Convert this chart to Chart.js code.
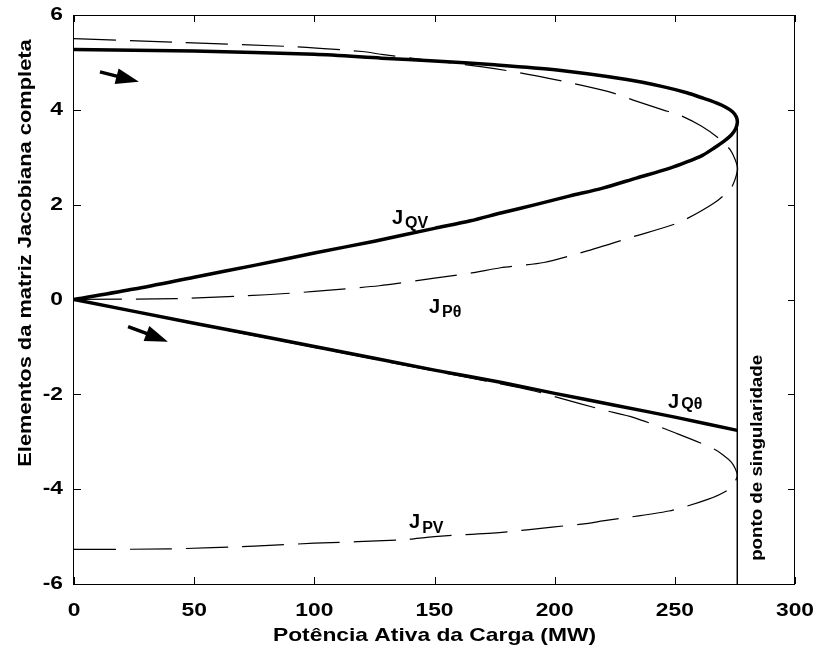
<!DOCTYPE html>
<html>
<head>
<meta charset="utf-8">
<script src="https://cdn.jsdelivr.net/npm/chart.js@4.4.1/dist/chart.umd.min.js"></script>
<style>
html, body { margin: 0; padding: 0; background: #fff; }
</style>
</head>
<body>
<canvas id="jacChart" width="817" height="650"></canvas>
<script>
// J_QV - thick solid (upper branch, nose, back to origin)
const qvX = [0, 50, 100, 128, 150, 175, 201, 230, 245, 255, 262, 267, 271, 274, 275.6, 276, 275.3, 273.5, 270.5, 266.5, 261.5, 255, 248, 234, 220, 206, 192, 178, 165, 150, 125, 100, 75, 50, 25, 0];
const qvY = [5.27, 5.24, 5.17, 5.09, 5.03, 4.95, 4.84, 4.64, 4.49, 4.36, 4.24, 4.15, 4.06, 3.96, 3.85, 3.73, 3.6, 3.47, 3.34, 3.2, 3.04, 2.9, 2.77, 2.56, 2.35, 2.18, 2.0, 1.83, 1.66, 1.5, 1.23, 0.98, 0.72, 0.47, 0.22, 0];

// J_Ptheta - thin dashed
const ptX = [0, 45, 92, 120, 128, 150, 175, 197, 222, 233, 245, 252, 261, 268, 273, 275.8, 276, 273.5, 266.5, 251.5, 233, 212.5, 195.5, 177.5, 165.5, 150, 127, 100, 80, 43, 0];
const ptY = [5.5, 5.42, 5.33, 5.23, 5.17, 5.03, 4.87, 4.67, 4.39, 4.2, 4.0, 3.89, 3.66, 3.41, 3.16, 2.85, 2.7, 2.36, 2.04, 1.62, 1.33, 1.01, 0.78, 0.67, 0.56, 0.45, 0.29, 0.17, 0.1, 0.02, 0];

// J_Qtheta - thick solid
const qtX = [0, 50, 100, 150, 178, 200, 225, 250, 276];
const qtY = [0, -0.5, -0.99, -1.49, -1.75, -1.98, -2.23, -2.48, -2.76];

// J_PV - thin dashed
const pvX = [0, 40, 75, 100, 136, 150, 178, 199, 214, 220, 247.5, 264, 272.5, 276, 273.5, 266.5, 249.5, 233, 219.5, 201.5, 191.5, 177.5, 150, 100, 50, 0];
const pvY = [-5.27, -5.26, -5.2, -5.14, -5.07, -5.0, -4.91, -4.8, -4.72, -4.67, -4.46, -4.21, -4.0, -3.72, -3.43, -3.16, -2.8, -2.49, -2.32, -2.07, -1.93, -1.78, -1.51, -1.01, -0.51, 0];

// singular point marker line
const singX = [276, 276];
const singY = [3.72, -6];

const xTicks = [0, 50, 100, 150, 200, 250, 300];
const yTicks = [-6, -4, -2, 0, 2, 4, 6];

// annotations (data coordinates)
const arrows = [
    { from: [10.8, 4.8], to: [27.0, 4.59] },
    { from: [22.5, -0.57], to: [39.1, -0.89] }
];
const curveLabels = [
    { main: "J", sub: "QV", x: 132.3, y: 1.6, subDy: 4 },
    { main: "J", sub: "P\u03b8", x: 147.7, y: -0.28, subDy: 4 },
    { main: "J", sub: "Q\u03b8", x: 247.2, y: -2.29, subDy: 1 },
    { main: "J", sub: "PV", x: 139.4, y: -4.82, subDy: 5 }
];

function toPoints(xs, ys) {
    return xs.map((x, i) => ({ x: x, y: ys[i] }));
}

const FONT = "'Liberation Sans', Arial, Helvetica, sans-serif";

// text drawn a bit wider, like the stretched original figure
function wideText(ctx, str, x, y, sx, rot) {
    ctx.save();
    ctx.translate(x, y);
    if (rot) ctx.rotate(rot);
    ctx.scale(sx, 1);
    ctx.fillText(str, 0, 0);
    ctx.restore();
}

const framePlugin = {
    id: 'frame',
    afterDraw(chart) {
        const ctx = chart.ctx;
        const a = chart.chartArea;
        const xs = chart.scales.x;
        const ys = chart.scales.y;
        ctx.save();
        ctx.strokeStyle = '#000';
        ctx.fillStyle = '#000';
        ctx.lineWidth = 1;
        ctx.strokeRect(Math.round(a.left) - 0.5, Math.round(a.top) + 0.5, Math.round(a.right - a.left), Math.round(a.bottom - a.top));

        // inward ticks on all four sides
        ctx.beginPath();
        xTicks.forEach(v => {
            const p = Math.round(xs.getPixelForValue(v)) + 0.5;
            ctx.moveTo(p, a.bottom); ctx.lineTo(p, a.bottom - 7);
            ctx.moveTo(p, a.top); ctx.lineTo(p, a.top + 7);
        });
        yTicks.forEach(v => {
            const p = Math.round(ys.getPixelForValue(v)) + 0.5;
            ctx.moveTo(a.left, p); ctx.lineTo(a.left + 7, p);
            ctx.moveTo(a.right, p); ctx.lineTo(a.right - 7, p);
        });
        ctx.stroke();

        // tick labels
        ctx.font = "bold 19px " + FONT;
        ctx.textBaseline = 'middle';
        ctx.textAlign = 'center';
        xTicks.forEach(v => wideText(ctx, String(v), xs.getPixelForValue(v), 611, 1.2));
        ctx.textAlign = 'right';
        yTicks.forEach(v => wideText(ctx, String(v), 63, ys.getPixelForValue(v), 1.2));

        // arrows
        arrows.forEach(ar => {
            const x1 = xs.getPixelForValue(ar.from[0]), y1 = ys.getPixelForValue(ar.from[1]);
            const x2 = xs.getPixelForValue(ar.to[0]), y2 = ys.getPixelForValue(ar.to[1]);
            const ang = Math.atan2(y2 - y1, x2 - x1);
            const hl = 23, hw = 8;
            const bx = x2 - hl * Math.cos(ang), by = y2 - hl * Math.sin(ang);
            ctx.lineWidth = 3.5;
            ctx.beginPath();
            ctx.moveTo(x1, y1); ctx.lineTo(bx + 2 * Math.cos(ang), by + 2 * Math.sin(ang));
            ctx.stroke();
            ctx.beginPath();
            ctx.moveTo(x2, y2);
            ctx.lineTo(bx + hw * Math.sin(ang), by - hw * Math.cos(ang));
            ctx.lineTo(bx - hw * Math.sin(ang), by + hw * Math.cos(ang));
            ctx.closePath();
            ctx.fill();
        });

        // curve labels
        ctx.textBaseline = 'alphabetic';
        ctx.textAlign = 'left';
        curveLabels.forEach(l => {
            const px = xs.getPixelForValue(l.x), py = ys.getPixelForValue(l.y);
            ctx.font = "bold 20px " + FONT;
            ctx.fillText(l.main, px, py);
            const w = ctx.measureText(l.main).width;
            ctx.font = "bold 16px " + FONT;
            ctx.fillText(l.sub, px + w + 2, py + l.subDy);
        });

        // vertical annotation
        ctx.font = "bold 16px " + FONT;
        ctx.textAlign = 'center';
        ctx.textBaseline = 'middle';
        wideText(ctx, "ponto de singularidade", xs.getPixelForValue(284.6), ys.getPixelForValue(-3.34), 1.17, -Math.PI / 2);

        // axis titles
        ctx.font = "bold 19px " + FONT;
        wideText(ctx, "Potência Ativa da Carga (MW)", (a.left + a.right) / 2, 636, 1.2);
        wideText(ctx, "Elementos da matriz Jacobiana completa", 26, 253, 1.15, -Math.PI / 2);
        ctx.restore();
    }
};

const ctx = document.getElementById("jacChart").getContext("2d");

const jacChart = new Chart(ctx, {
    type: 'scatter',
    data: {
        datasets: [
            {
                label: 'J_QV',
                data: toPoints(qvX, qvY),
                showLine: true,
                borderColor: '#000',
                borderWidth: 3.5,
                tension: 0.3,
                pointRadius: 0
            },
            {
                label: 'J_Qtheta',
                data: toPoints(qtX, qtY),
                showLine: true,
                borderColor: '#000',
                borderWidth: 3.5,
                tension: 0.2,
                pointRadius: 0
            },
            {
                label: 'J_Ptheta',
                data: toPoints(ptX, ptY),
                showLine: true,
                borderColor: '#000',
                borderWidth: 1.2,
                borderDash: [42, 14],
                tension: 0.25,
                pointRadius: 0
            },
            {
                label: 'J_PV',
                data: toPoints(pvX, pvY),
                showLine: true,
                borderColor: '#000',
                borderWidth: 1.2,
                borderDash: [42, 14],
                tension: 0.25,
                pointRadius: 0
            },
            {
                label: 'singularidade',
                data: toPoints(singX, singY),
                showLine: true,
                borderColor: '#000',
                borderWidth: 1,
                tension: 0,
                pointRadius: 0
            }
        ]
    },
    options: {
        responsive: false,
        animation: false,
        devicePixelRatio: 1,
        layout: {
            padding: { top: 15, right: 22, left: 0, bottom: 0 }
        },
        plugins: {
            legend: { display: false },
            tooltip: { enabled: false }
        },
        scales: {
            x: {
                type: 'linear',
                min: 0,
                max: 300,
                afterFit: (scale) => { scale.height = 66; },
                grid: { display: false },
                border: { display: false },
                ticks: { display: false }
            },
            y: {
                type: 'linear',
                min: -6,
                max: 6,
                afterFit: (scale) => { scale.width = 74; },
                grid: { display: false },
                border: { display: false },
                ticks: { display: false }
            }
        }
    },
    plugins: [framePlugin]
});
</script>
</body>
</html>
